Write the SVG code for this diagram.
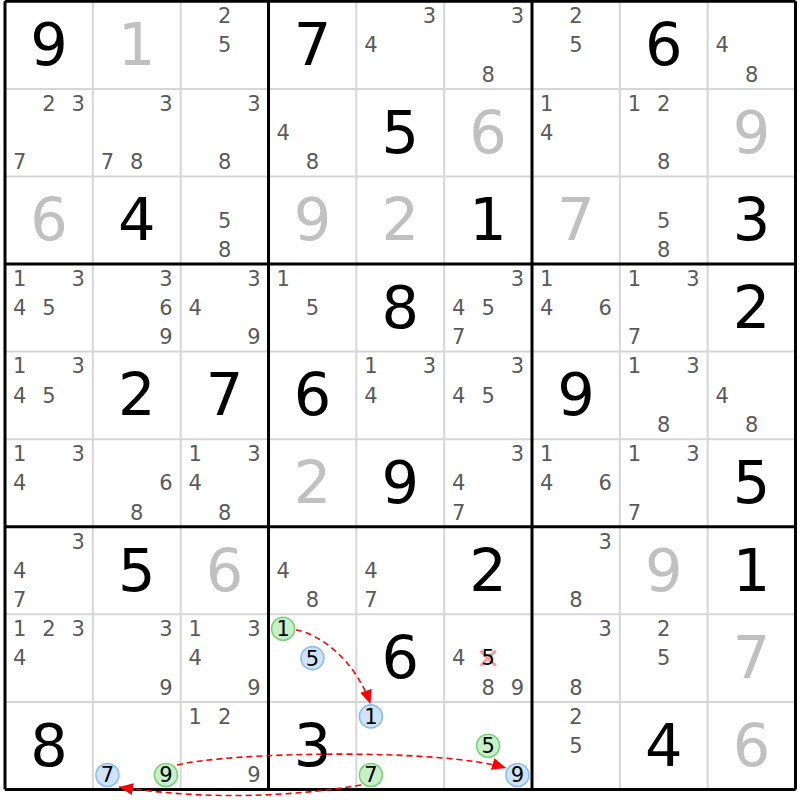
<svg xmlns="http://www.w3.org/2000/svg" width="800" height="800" viewBox="0 0 800 800">
<style>
text{font-family:"DejaVu Sans","Liberation Sans",sans-serif;text-anchor:middle}
.g{font-size:59px;fill:#000}
.v{font-size:59px;fill:#c0c0c0}
.c{font-size:21px;fill:#5a5a5a}
.k{font-size:21px;fill:#000}
.thin{stroke:#d6d6d6;stroke-width:2}
.thick{stroke:#000;stroke-width:3}
.gr{fill:#c8f0c8;stroke:#7cd07c;stroke-width:1.6}
.bl{fill:#cfe3fc;stroke:#8cbcf0;stroke-width:1.6}
.arr{fill:none;stroke:#ff0000;stroke-width:1.6;stroke-dasharray:6,4}
</style>
<defs>
<marker id="ah" markerUnits="userSpaceOnUse" markerWidth="16" markerHeight="12" refX="14" refY="6" orient="auto"><path d="M0,0 L14,6 L0,12 z" fill="#ff0000"/></marker>
</defs>
<rect x="0" y="0" width="800" height="800" fill="#fff"/>
<g id="grid">
<path class="thin" d="M92.83,1.3V789.4M180.67,1.3V789.4M356.33,1.3V789.4M444.17,1.3V789.4M619.83,1.3V789.4M707.67,1.3V789.4M5,88.9H795.5M5,176.4H795.5M5,351.6H795.5M5,439.2H795.5M5,614.3H795.5M5,701.9H795.5"/>
<path class="thick" d="M5,1.3V789.4M268.5,1.3V789.4M532,1.3V789.4M795.5,1.3V789.4M5,1.3H795.5M5,264H795.5M5,526.7H795.5M5,789.4H795.5"/>
</g>
<!-- Row 0 -->
<g id="r0c0" transform="translate(48.9,45.1)"><text class="g" y="20">9</text></g>
<g id="r0c1" transform="translate(136.7,45.1)"><text class="v" y="20">1</text></g>
<g id="r0c2" transform="translate(224.6,45.1)"><text class="c" x="0" y="-22">2</text><text class="c" x="0" y="7.3">5</text></g>
<g id="r0c3" transform="translate(312.4,45.1)"><text class="g" y="20">7</text></g>
<g id="r0c4" transform="translate(400.2,45.1)"><text class="c" x="29.3" y="-22">3</text><text class="c" x="-29.3" y="7.3">4</text></g>
<g id="r0c5" transform="translate(488.1,45.1)"><text class="c" x="29.3" y="-22">3</text><text class="c" x="0" y="36.6">8</text></g>
<g id="r0c6" transform="translate(575.9,45.1)"><text class="c" x="0" y="-22">2</text><text class="c" x="0" y="7.3">5</text></g>
<g id="r0c7" transform="translate(663.7,45.1)"><text class="g" y="20">6</text></g>
<g id="r0c8" transform="translate(751.6,45.1)"><text class="c" x="-29.3" y="7.3">4</text><text class="c" x="0" y="36.6">8</text></g>
<!-- Row 1 -->
<g id="r1c0" transform="translate(48.9,132.7)"><text class="c" x="0" y="-22">2</text><text class="c" x="29.3" y="-22">3</text><text class="c" x="-29.3" y="36.6">7</text></g>
<g id="r1c1" transform="translate(136.7,132.7)"><text class="c" x="29.3" y="-22">3</text><text class="c" x="-29.3" y="36.6">7</text><text class="c" x="0" y="36.6">8</text></g>
<g id="r1c2" transform="translate(224.6,132.7)"><text class="c" x="29.3" y="-22">3</text><text class="c" x="0" y="36.6">8</text></g>
<g id="r1c3" transform="translate(312.4,132.7)"><text class="c" x="-29.3" y="7.3">4</text><text class="c" x="0" y="36.6">8</text></g>
<g id="r1c4" transform="translate(400.2,132.7)"><text class="g" y="20">5</text></g>
<g id="r1c5" transform="translate(488.1,132.7)"><text class="v" y="20">6</text></g>
<g id="r1c6" transform="translate(575.9,132.7)"><text class="c" x="-29.3" y="-22">1</text><text class="c" x="-29.3" y="7.3">4</text></g>
<g id="r1c7" transform="translate(663.7,132.7)"><text class="c" x="-29.3" y="-22">1</text><text class="c" x="0" y="-22">2</text><text class="c" x="0" y="36.6">8</text></g>
<g id="r1c8" transform="translate(751.6,132.7)"><text class="v" y="20">9</text></g>
<!-- Row 2 -->
<g id="r2c0" transform="translate(48.9,220.2)"><text class="v" y="20">6</text></g>
<g id="r2c1" transform="translate(136.7,220.2)"><text class="g" y="20">4</text></g>
<g id="r2c2" transform="translate(224.6,220.2)"><text class="c" x="0" y="7.3">5</text><text class="c" x="0" y="36.6">8</text></g>
<g id="r2c3" transform="translate(312.4,220.2)"><text class="v" y="20">9</text></g>
<g id="r2c4" transform="translate(400.2,220.2)"><text class="v" y="20">2</text></g>
<g id="r2c5" transform="translate(488.1,220.2)"><text class="g" y="20">1</text></g>
<g id="r2c6" transform="translate(575.9,220.2)"><text class="v" y="20">7</text></g>
<g id="r2c7" transform="translate(663.7,220.2)"><text class="c" x="0" y="7.3">5</text><text class="c" x="0" y="36.6">8</text></g>
<g id="r2c8" transform="translate(751.6,220.2)"><text class="g" y="20">3</text></g>
<!-- Row 3 -->
<g id="r3c0" transform="translate(48.9,307.8)"><text class="c" x="-29.3" y="-22">1</text><text class="c" x="29.3" y="-22">3</text><text class="c" x="-29.3" y="7.3">4</text><text class="c" x="0" y="7.3">5</text></g>
<g id="r3c1" transform="translate(136.7,307.8)"><text class="c" x="29.3" y="-22">3</text><text class="c" x="29.3" y="7.3">6</text><text class="c" x="29.3" y="36.6">9</text></g>
<g id="r3c2" transform="translate(224.6,307.8)"><text class="c" x="29.3" y="-22">3</text><text class="c" x="-29.3" y="7.3">4</text><text class="c" x="29.3" y="36.6">9</text></g>
<g id="r3c3" transform="translate(312.4,307.8)"><text class="c" x="-29.3" y="-22">1</text><text class="c" x="0" y="7.3">5</text></g>
<g id="r3c4" transform="translate(400.2,307.8)"><text class="g" y="20">8</text></g>
<g id="r3c5" transform="translate(488.1,307.8)"><text class="c" x="29.3" y="-22">3</text><text class="c" x="-29.3" y="7.3">4</text><text class="c" x="0" y="7.3">5</text><text class="c" x="-29.3" y="36.6">7</text></g>
<g id="r3c6" transform="translate(575.9,307.8)"><text class="c" x="-29.3" y="-22">1</text><text class="c" x="-29.3" y="7.3">4</text><text class="c" x="29.3" y="7.3">6</text></g>
<g id="r3c7" transform="translate(663.7,307.8)"><text class="c" x="-29.3" y="-22">1</text><text class="c" x="29.3" y="-22">3</text><text class="c" x="-29.3" y="36.6">7</text></g>
<g id="r3c8" transform="translate(751.6,307.8)"><text class="g" y="20">2</text></g>
<!-- Row 4 -->
<g id="r4c0" transform="translate(48.9,395.4)"><text class="c" x="-29.3" y="-22">1</text><text class="c" x="29.3" y="-22">3</text><text class="c" x="-29.3" y="7.3">4</text><text class="c" x="0" y="7.3">5</text></g>
<g id="r4c1" transform="translate(136.7,395.4)"><text class="g" y="20">2</text></g>
<g id="r4c2" transform="translate(224.6,395.4)"><text class="g" y="20">7</text></g>
<g id="r4c3" transform="translate(312.4,395.4)"><text class="g" y="20">6</text></g>
<g id="r4c4" transform="translate(400.2,395.4)"><text class="c" x="-29.3" y="-22">1</text><text class="c" x="29.3" y="-22">3</text><text class="c" x="-29.3" y="7.3">4</text></g>
<g id="r4c5" transform="translate(488.1,395.4)"><text class="c" x="29.3" y="-22">3</text><text class="c" x="-29.3" y="7.3">4</text><text class="c" x="0" y="7.3">5</text></g>
<g id="r4c6" transform="translate(575.9,395.4)"><text class="g" y="20">9</text></g>
<g id="r4c7" transform="translate(663.7,395.4)"><text class="c" x="-29.3" y="-22">1</text><text class="c" x="29.3" y="-22">3</text><text class="c" x="0" y="36.6">8</text></g>
<g id="r4c8" transform="translate(751.6,395.4)"><text class="c" x="-29.3" y="7.3">4</text><text class="c" x="0" y="36.6">8</text></g>
<!-- Row 5 -->
<g id="r5c0" transform="translate(48.9,483)"><text class="c" x="-29.3" y="-22">1</text><text class="c" x="29.3" y="-22">3</text><text class="c" x="-29.3" y="7.3">4</text></g>
<g id="r5c1" transform="translate(136.7,483)"><text class="c" x="29.3" y="7.3">6</text><text class="c" x="0" y="36.6">8</text></g>
<g id="r5c2" transform="translate(224.6,483)"><text class="c" x="-29.3" y="-22">1</text><text class="c" x="29.3" y="-22">3</text><text class="c" x="-29.3" y="7.3">4</text><text class="c" x="0" y="36.6">8</text></g>
<g id="r5c3" transform="translate(312.4,483)"><text class="v" y="20">2</text></g>
<g id="r5c4" transform="translate(400.2,483)"><text class="g" y="20">9</text></g>
<g id="r5c5" transform="translate(488.1,483)"><text class="c" x="29.3" y="-22">3</text><text class="c" x="-29.3" y="7.3">4</text><text class="c" x="-29.3" y="36.6">7</text></g>
<g id="r5c6" transform="translate(575.9,483)"><text class="c" x="-29.3" y="-22">1</text><text class="c" x="-29.3" y="7.3">4</text><text class="c" x="29.3" y="7.3">6</text></g>
<g id="r5c7" transform="translate(663.7,483)"><text class="c" x="-29.3" y="-22">1</text><text class="c" x="29.3" y="-22">3</text><text class="c" x="-29.3" y="36.6">7</text></g>
<g id="r5c8" transform="translate(751.6,483)"><text class="g" y="20">5</text></g>
<!-- Row 6 -->
<g id="r6c0" transform="translate(48.9,570.5)"><text class="c" x="29.3" y="-22">3</text><text class="c" x="-29.3" y="7.3">4</text><text class="c" x="-29.3" y="36.6">7</text></g>
<g id="r6c1" transform="translate(136.7,570.5)"><text class="g" y="20">5</text></g>
<g id="r6c2" transform="translate(224.6,570.5)"><text class="v" y="20">6</text></g>
<g id="r6c3" transform="translate(312.4,570.5)"><text class="c" x="-29.3" y="7.3">4</text><text class="c" x="0" y="36.6">8</text></g>
<g id="r6c4" transform="translate(400.2,570.5)"><text class="c" x="-29.3" y="7.3">4</text><text class="c" x="-29.3" y="36.6">7</text></g>
<g id="r6c5" transform="translate(488.1,570.5)"><text class="g" y="20">2</text></g>
<g id="r6c6" transform="translate(575.9,570.5)"><text class="c" x="29.3" y="-22">3</text><text class="c" x="0" y="36.6">8</text></g>
<g id="r6c7" transform="translate(663.7,570.5)"><text class="v" y="20">9</text></g>
<g id="r6c8" transform="translate(751.6,570.5)"><text class="g" y="20">1</text></g>
<!-- Row 7 -->
<g id="r7c0" transform="translate(48.9,658.1)"><text class="c" x="-29.3" y="-22">1</text><text class="c" x="0" y="-22">2</text><text class="c" x="29.3" y="-22">3</text><text class="c" x="-29.3" y="7.3">4</text></g>
<g id="r7c1" transform="translate(136.7,658.1)"><text class="c" x="29.3" y="-22">3</text><text class="c" x="29.3" y="36.6">9</text></g>
<g id="r7c2" transform="translate(224.6,658.1)"><text class="c" x="-29.3" y="-22">1</text><text class="c" x="29.3" y="-22">3</text><text class="c" x="-29.3" y="7.3">4</text><text class="c" x="29.3" y="36.6">9</text></g>
<g id="r7c3" transform="translate(312.4,658.1)"><circle class="gr" cx="-29.3" cy="-29.3" r="11.5"/><text class="k" x="-29.3" y="-21.8">1</text><circle class="bl" cx="0" cy="0" r="11.5"/><text class="k" x="0" y="7.5">5</text></g>
<g id="r7c4" transform="translate(400.2,658.1)"><text class="g" y="20">6</text></g>
<g id="r7c5" transform="translate(488.1,658.1)"><text class="c" x="-29.3" y="7.3">4</text><path d="M-7.5,-7.5L7.5,7.5M7.5,-7.5L-7.5,7.5" stroke="#f08c8c" stroke-width="3" fill="none" opacity="0.85"/><text class="k" x="0" y="7.3">5</text><text class="c" x="0" y="36.6">8</text><text class="c" x="29.3" y="36.6">9</text></g>
<g id="r7c6" transform="translate(575.9,658.1)"><text class="c" x="29.3" y="-22">3</text><text class="c" x="0" y="36.6">8</text></g>
<g id="r7c7" transform="translate(663.7,658.1)"><text class="c" x="0" y="-22">2</text><text class="c" x="0" y="7.3">5</text></g>
<g id="r7c8" transform="translate(751.6,658.1)"><text class="v" y="20">7</text></g>
<!-- Row 8 -->
<g id="r8c0" transform="translate(48.9,745.7)"><text class="g" y="20">8</text></g>
<g id="r8c1" transform="translate(136.7,745.7)"><circle class="bl" cx="-29.3" cy="29.3" r="11.5"/><text class="k" x="-29.3" y="36.8">7</text><circle class="gr" cx="29.3" cy="29.3" r="11.5"/><text class="k" x="29.3" y="36.8">9</text></g>
<g id="r8c2" transform="translate(224.6,745.7)"><text class="c" x="-29.3" y="-22">1</text><text class="c" x="0" y="-22">2</text><text class="c" x="29.3" y="36.6">9</text></g>
<g id="r8c3" transform="translate(312.4,745.7)"><text class="g" y="20">3</text></g>
<g id="r8c4" transform="translate(400.2,745.7)"><circle class="bl" cx="-29.3" cy="-29.3" r="11.5"/><text class="k" x="-29.3" y="-21.8">1</text><circle class="gr" cx="-29.3" cy="29.3" r="11.5"/><text class="k" x="-29.3" y="36.8">7</text></g>
<g id="r8c5" transform="translate(488.1,745.7)"><circle class="gr" cx="0" cy="0" r="11.5"/><text class="k" x="0" y="7.5">5</text><circle class="bl" cx="29.3" cy="29.3" r="11.5"/><text class="k" x="29.3" y="36.8">9</text></g>
<g id="r8c6" transform="translate(575.9,745.7)"><text class="c" x="0" y="-22">2</text><text class="c" x="0" y="7.3">5</text></g>
<g id="r8c7" transform="translate(663.7,745.7)"><text class="g" y="20">4</text></g>
<g id="r8c8" transform="translate(751.6,745.7)"><text class="v" y="20">6</text></g>
<g id="connectors">
<path class="arr" d="M296,630 C320,634 355,660 370.5,704" marker-end="url(#ah)"/>
<path class="arr" d="M177,765 C230,752 440,748 506,768" marker-end="url(#ah)"/>
<path class="arr" d="M361,785 Q240,805 119,787" marker-end="url(#ah)"/>
</g>
</svg>
